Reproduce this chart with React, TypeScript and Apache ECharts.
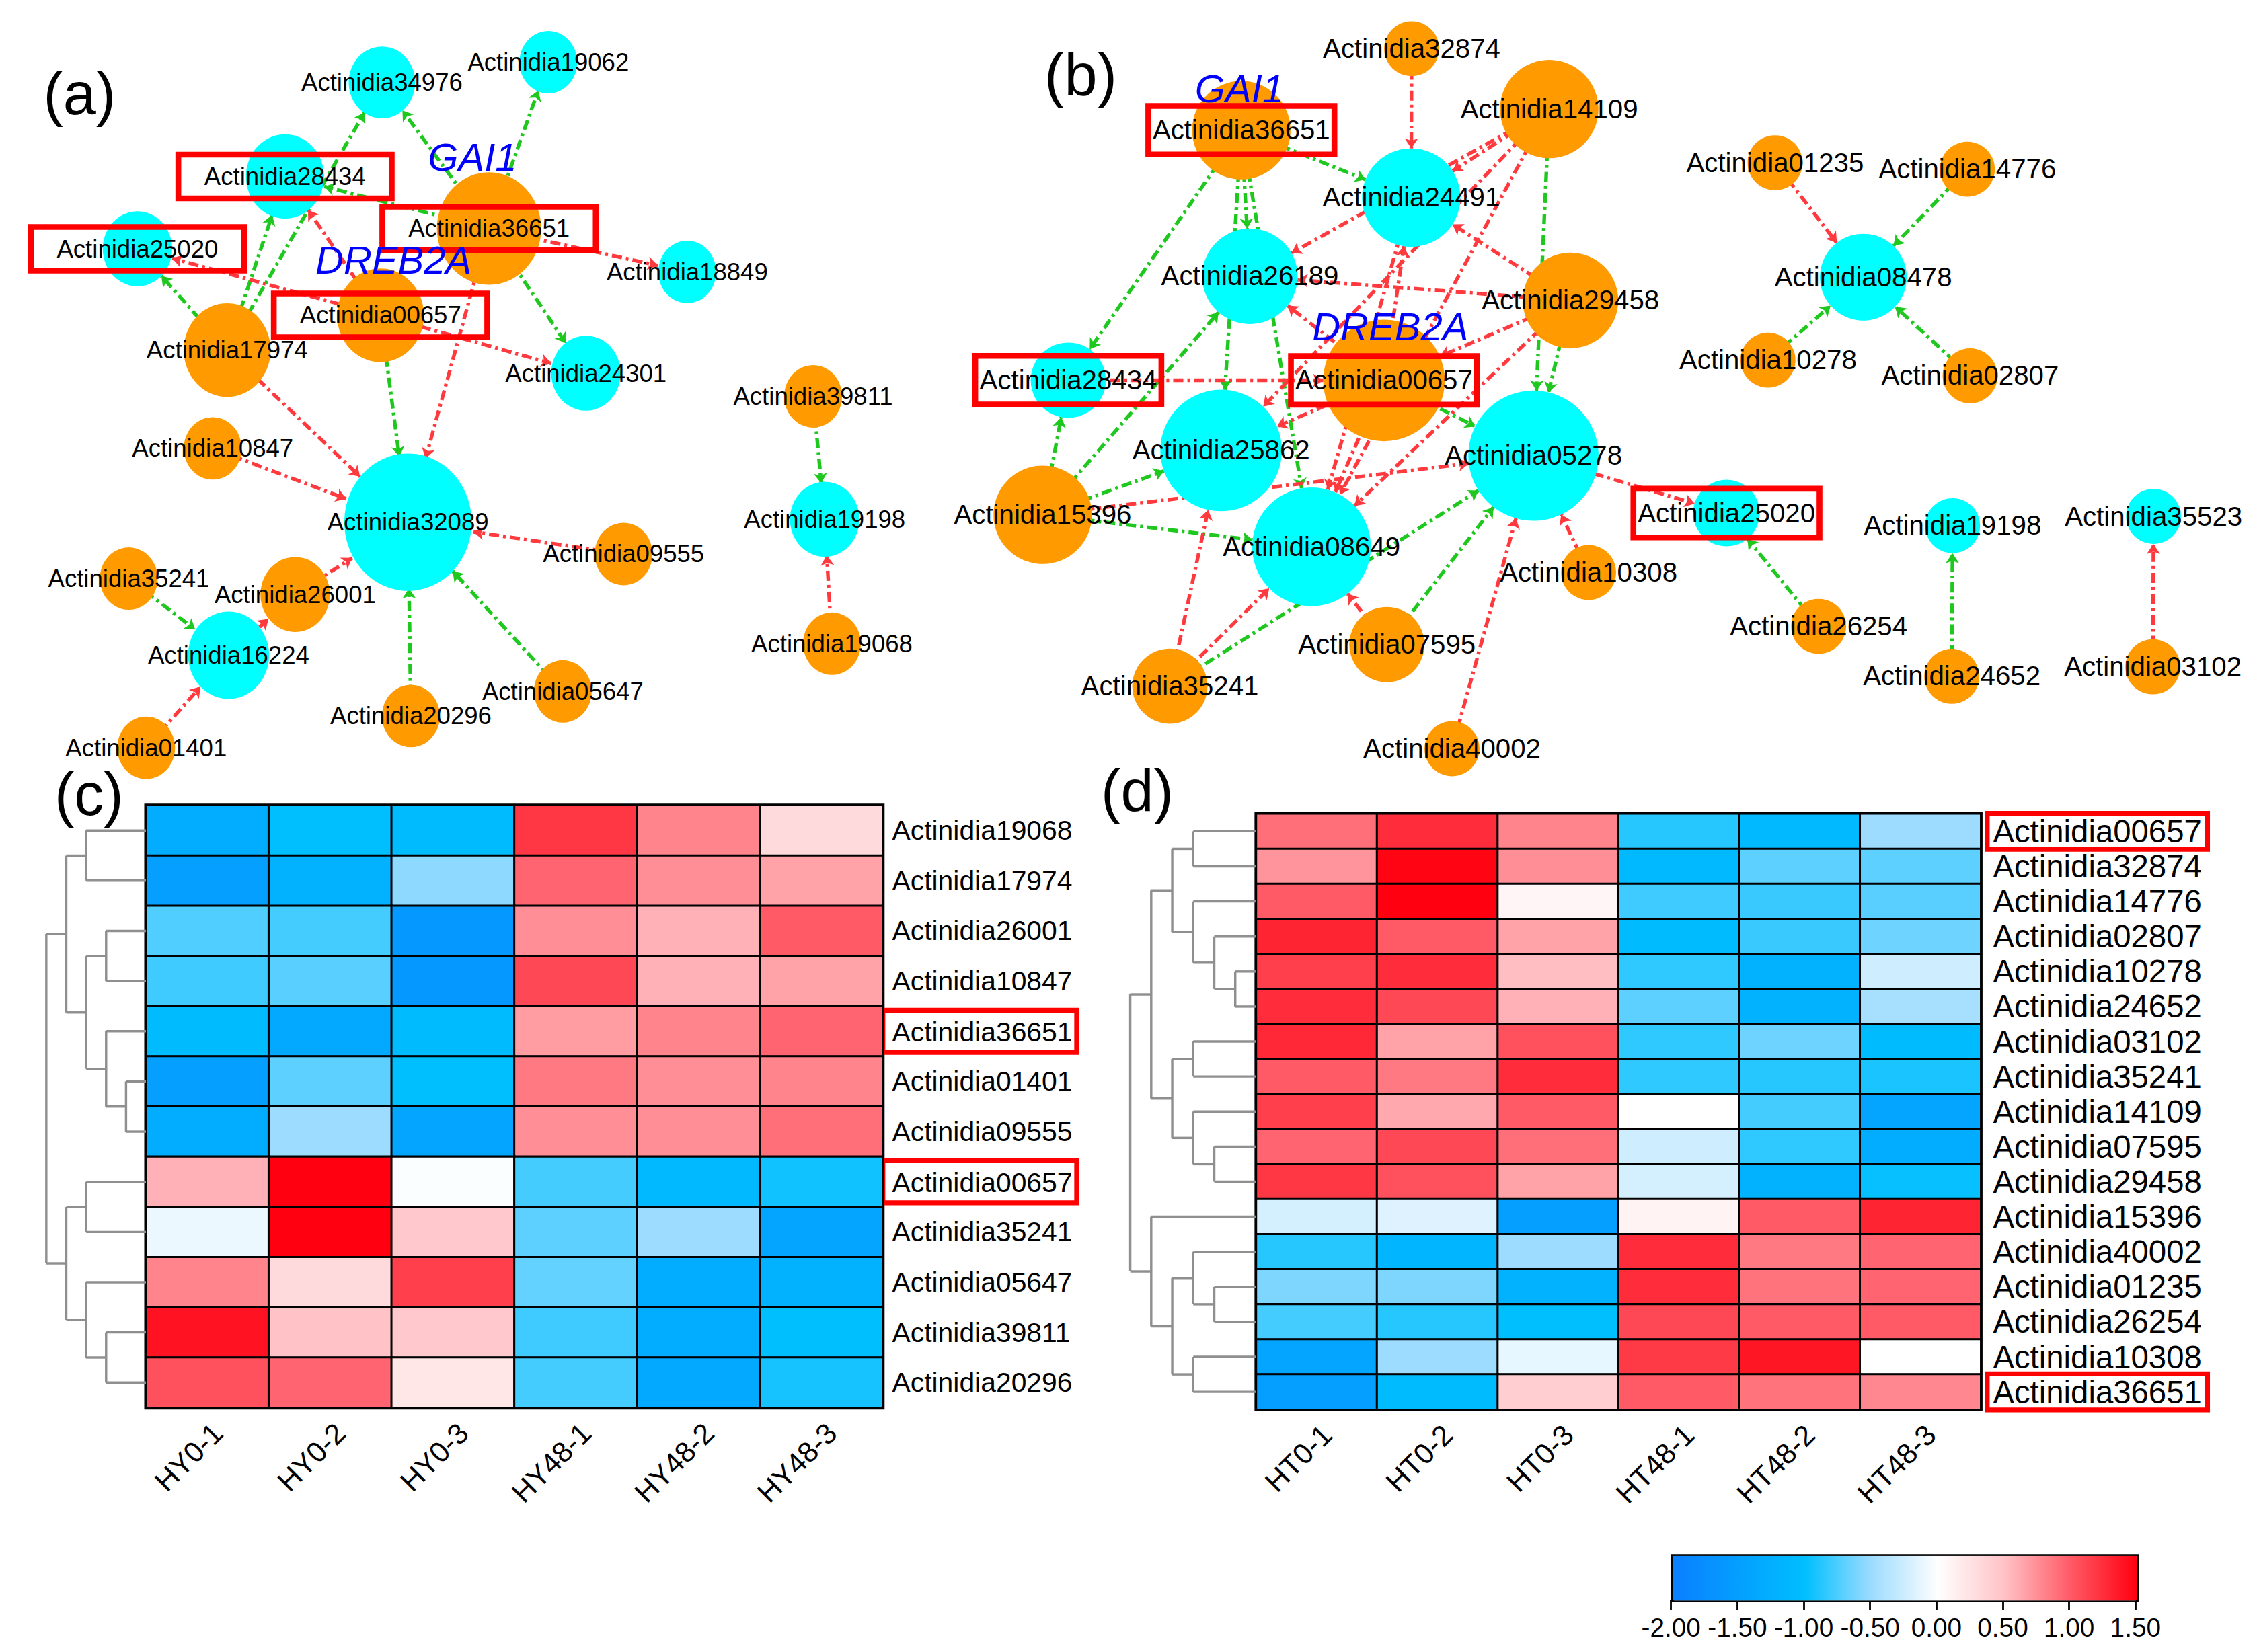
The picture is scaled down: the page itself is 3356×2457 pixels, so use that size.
import React, { useEffect, useRef } from "react";
import * as echarts from "echarts";

const PAGE_W = 3356;
const PAGE_H = 2457;
const S = PAGE_W / 1560;
const u = (v: number) => v * S;
const FONT = '"Liberation Sans", Arial, Helvetica, sans-serif';

const ORANGE = "#ff9a00";
const CYAN = "#00ffff";
const GREEN = "#1fc81f";
const RED = "#ff3a3f";
const BOX = "#ff0000";

// ---------------- Network (a) ----------------
const netAIds = ["34976", "19062", "28434", "36651", "25020", "18849", "00657", "17974", "24301", "10847", "32089", "09555", "35241", "26001", "16224", "01401", "20296", "05647", "39811", "19198", "19068"];
const netARoles = ["T", "T", "T", "R", "T", "T", "R", "R", "T", "R", "T", "R", "R", "R", "T", "R", "R", "R", "R", "T", "R"];
const netAPos = [[264, 57], [379, 43], [197, 122], [338, 158], [95, 172], [475, 188], [263, 218], [157, 242], [405, 258], [147, 310], [282, 361], [431, 383], [89, 400], [204, 411], [158, 453], [101, 517], [284, 495], [389, 478], [562, 274], [570, 359], [575, 445]];
const netARadius = [23, 20, 27, 36, 24, 20, 30, 30, 24, 20, 44, 20, 20, 24, 28, 20, 20, 20, 20, 24, 20];
const netAEdges = [
  ["36651", "34976", "+"], ["17974", "34976", "+"], ["36651", "19062", "+"], ["36651", "28434", "+"],
  ["17974", "28434", "+"], ["00657", "28434", "-"], ["17974", "25020", "+"], ["00657", "25020", "-"],
  ["36651", "18849", "-"], ["36651", "24301", "+"], ["00657", "24301", "-"], ["36651", "32089", "-"],
  ["00657", "32089", "+"], ["17974", "32089", "-"], ["10847", "32089", "-"], ["09555", "32089", "-"],
  ["26001", "32089", "-"], ["20296", "32089", "+"], ["05647", "32089", "+"], ["35241", "16224", "+"],
  ["01401", "16224", "-"], ["16224", "26001", "-"], ["39811", "19198", "+"], ["19068", "19198", "-"],
];
const netAMarked = ["28434", "36651", "25020", "00657"];

// ---------------- Network (b) ----------------
const netBIds = ["32874", "14109", "36651", "24491", "26189", "29458", "28434", "00657", "25862", "05278", "15396", "08649", "25020", "10308", "07595", "35241", "40002", "01235", "14776", "08478", "10278", "02807", "19198", "35523", "26254", "24652", "03102"];
const netBRoles = ["R", "R", "R", "T", "T", "R", "T", "R", "T", "T", "R", "T", "T", "R", "R", "R", "R", "R", "R", "T", "R", "R", "T", "T", "R", "R", "R"];
const netBPos = [[975.7, 33.6], [1070.8, 75.4], [858, 90], [975.4, 136.6], [863.9, 191], [1085.5, 207.7], [738.4, 262.8], [956.6, 263], [844, 311.4], [1059.9, 315], [720.7, 355.9], [906.5, 378], [1193.3, 354.7], [1098, 395.8], [958.6, 445.6], [808.6, 474.4], [1003.6, 517.6], [1226.9, 112.5], [1359.8, 117], [1287.9, 191.6], [1222, 249], [1361.7, 259.8], [1349.6, 363.4], [1488.5, 357], [1257, 433], [1349, 467.6], [1488, 461]];
const netBRadius = [19, 34, 34, 34, 33, 33, 26, 42, 42, 45, 34, 41, 23, 19, 26, 26, 19, 19, 19, 30, 19, 19, 19, 19, 19, 19, 19];
const netBEdges = [
  ["32874", "24491", "-"], ["36651", "24491", "+"], ["36651", "26189", "+"], ["36651", "25862", "+"],
  ["36651", "08649", "+"], ["36651", "28434", "+"], ["14109", "24491", "-"], ["14109", "26189", "-"],
  ["14109", "25862", "-"], ["14109", "08649", "-"], ["14109", "05278", "+"], ["29458", "24491", "-"],
  ["29458", "26189", "-"], ["29458", "05278", "+"], ["29458", "00657", "-"], ["29458", "08649", "-"],
  ["00657", "24491", "-"], ["24491", "08649", "-"], ["00657", "26189", "-"], ["15396", "26189", "+"],
  ["28434", "00657", "-"], ["15396", "28434", "+"], ["15396", "25862", "+"], ["15396", "05278", "-"],
  ["15396", "08649", "+"], ["00657", "25862", "-"], ["00657", "08649", "-"], ["35241", "25862", "-"],
  ["35241", "08649", "-"], ["35241", "05278", "+"], ["07595", "05278", "+"], ["07595", "08649", "-"],
  ["40002", "05278", "-"], ["10308", "05278", "-"], ["05278", "25020", "-"], ["00657", "05278", "+"],
  ["26254", "25020", "+"], ["01235", "08478", "-"], ["14776", "08478", "+"], ["10278", "08478", "+"],
  ["02807", "08478", "+"], ["24652", "19198", "+"], ["03102", "35523", "-"],
];
const netBMarked = ["36651", "28434", "00657", "25020"];

// ---------------- Heatmap (c) ----------------
const hmCGenes = ["Actinidia19068", "Actinidia17974", "Actinidia26001", "Actinidia10847", "Actinidia36651", "Actinidia01401", "Actinidia09555", "Actinidia00657", "Actinidia35241", "Actinidia05647", "Actinidia39811", "Actinidia20296"];
const hmCSamples = ["HY0-1", "HY0-2", "HY0-3", "HY48-1", "HY48-2", "HY48-3"];
const hmCValues = [
  [-1.3, -1.0, -1.05, 1.2, 0.8, 0.3],
  [-1.5, -1.2, -0.55, 0.95, 0.75, 0.65],
  [-0.75, -0.78, -1.6, 0.75, 0.58, 1.0],
  [-0.8, -0.72, -1.6, 1.1, 0.58, 0.65],
  [-1.05, -1.35, -1.05, 0.68, 0.8, 0.95],
  [-1.5, -0.7, -1.0, 0.85, 0.75, 0.8],
  [-1.3, -0.5, -1.4, 0.75, 0.75, 0.9],
  [0.58, 1.5, -0.02, -0.78, -1.1, -0.95],
  [-0.1, 1.5, 0.45, -0.7, -0.5, -1.4],
  [0.8, 0.3, 1.15, -0.68, -1.3, -1.2],
  [1.4, 0.5, 0.45, -0.8, -1.3, -1.0],
  [1.05, 0.95, 0.2, -0.78, -1.35, -0.93],
];
const hmCMarked = ["Actinidia36651", "Actinidia00657"];
// tree: leaf = row index, node = [height, left, right]
const hmCTree: any = [5,
  [4, [3, 0, 1], [3, [2, 2, 3], [2, 4, [1, 5, 6]]]],
  [4, [3, 7, 8], [3, 9, [2, 10, 11]]]];

// ---------------- Heatmap (d) ----------------
const hmDGenes = ["Actinidia00657", "Actinidia32874", "Actinidia14776", "Actinidia02807", "Actinidia10278", "Actinidia24652", "Actinidia03102", "Actinidia35241", "Actinidia14109", "Actinidia07595", "Actinidia29458", "Actinidia15396", "Actinidia40002", "Actinidia01235", "Actinidia26254", "Actinidia10308", "Actinidia36651"];
const hmDSamples = ["HT0-1", "HT0-2", "HT0-3", "HT48-1", "HT48-2", "HT48-3"];
const hmDValues = [
  [0.9, 1.25, 0.8, -0.88, -1.1, -0.5],
  [0.72, 1.48, 0.75, -1.1, -0.7, -0.7],
  [1.0, 1.5, 0.08, -0.8, -0.82, -0.72],
  [1.3, 1.0, 0.65, -1.05, -0.82, -0.65],
  [1.15, 1.25, 0.52, -0.85, -1.2, -0.25],
  [1.25, 1.1, 0.58, -0.7, -1.2, -0.45],
  [1.28, 0.65, 1.05, -0.85, -0.65, -1.05],
  [1.0, 0.85, 1.25, -0.85, -0.88, -0.92],
  [1.15, 0.62, 1.0, 0.0, -0.78, -1.4],
  [0.95, 1.1, 0.9, -0.25, -0.85, -1.3],
  [1.2, 1.05, 0.65, -0.22, -1.2, -0.98],
  [-0.22, -0.17, -1.5, 0.1, 1.0, 1.3],
  [-0.88, -1.15, -0.5, 1.25, 0.85, 0.95],
  [-0.6, -0.6, -1.2, 1.25, 0.88, 0.95],
  [-0.78, -0.88, -1.0, 1.1, 1.0, 1.0],
  [-1.4, -0.5, -0.12, 1.18, 1.38, 0.0],
  [-1.5, -1.05, 0.4, 1.0, 0.88, 0.78],
];
const hmDMarked = ["Actinidia00657", "Actinidia36651"];
const hmDTree: any = [6,
  [5,
    [4, [3, 0, 1], [3, 2, [2, 3, [1, 4, 5]]]],
    [4, [3, 6, 7], [3, 8, [2, 9, 10]]]],
  [5, 11, [4, [3, 12, [2, 13, 14]], [3, 15, 16]]]];

// ---------------- Colour scale ----------------
const scaleMin = -2;
const scaleMax = 1.5;
const scaleColors = ["#0a7fff", "#049fff", "#00bfff", "#9ddcff", "#ffffff", "#ffc2c6", "#ff5a66", "#ff0010"];

// ---------------- helpers ----------------
function dendroSegments(tree: any): number[][] {
  const segs: number[][] = [];
  const walk = (t: any): [number, number] => {
    if (typeof t === "number") return [0, t + 0.5];
    const [h, l, r] = t;
    const [hl, yl] = walk(l);
    const [hr, yr] = walk(r);
    segs.push([hl, yl, h, yl]);
    segs.push([hr, yr, h, yr]);
    segs.push([h, yl, h, yr]);
    return [h, (yl + yr) / 2];
  };
  walk(tree);
  return segs;
}

function heatData(values: number[][]) {
  const out: number[][] = [];
  values.forEach((row, r) => row.forEach((v, c) => out.push([c, r, v])));
  return out;
}

function buildNet(ids: string[], roles: string[], pos: number[][], radius: number[], edges: string[][], marked: string[], fontSize: number, aspect: number, pad: number[]) {
  const data = ids.map((id, i) => {
    const d: any = {
      name: "Actinidia" + id,
      value: pos[i],
      symbolSize: [u(2 * radius[i]), u(2 * radius[i] * aspect)],
      itemStyle: { color: roles[i] === "R" ? ORANGE : CYAN },
    };
    if (marked.includes(id)) {
      d.label = { borderColor: BOX, borderWidth: u(4), padding: [u(pad[0]), u(pad[1])] };
    }
    return d;
  });
  const links = edges.map(([s, t, sign]) => ({
    source: "Actinidia" + s,
    target: "Actinidia" + t,
    lineStyle: { color: sign === "+" ? GREEN : RED },
  }));
  return {
    type: "graph",
    coordinateSystem: "cartesian2d",
    xAxisIndex: 0,
    yAxisIndex: 0,
    layout: "none",
    data,
    links,
    symbol: "circle",
    edgeSymbol: ["none", "arrow"],
    edgeSymbolSize: [0, u(7)],
    lineStyle: { width: u(2.5), type: [u(7), u(2.8), u(1.9), u(2.8)], opacity: 1, curveness: 0 },
    label: { show: true, position: "inside", color: "#000", fontSize: u(fontSize), fontFamily: FONT },
    emphasis: { disabled: true },
    silent: true,
    z: 3,
  };
}

function rowAxisLabel(marked: string[], fontSize: number, margin: number, padN: number, boxPad: number[]) {
  return {
    margin: u(margin),
    interval: 0,
    hideOverlap: false,
    showMinLabel: true,
    showMaxLabel: true,
    formatter: (v: string) => (marked.includes(v) ? `{box|${v}}` : `{n|${v}}`),
    rich: {
      n: { fontSize: u(fontSize), fontFamily: FONT, color: "#000", padding: [0, 0, 0, u(padN)] },
      box: {
        fontSize: u(fontSize), fontFamily: FONT, color: "#000",
        borderColor: BOX, borderWidth: u(3.4), padding: boxPad.map(u),
      },
    },
  };
}

function dendroSeries(tree: any, axisIndex: number) {
  return {
    type: "custom",
    xAxisIndex: axisIndex,
    yAxisIndex: axisIndex,
    data: dendroSegments(tree),
    silent: true,
    clip: false,
    renderItem: (_params: any, api: any) => {
      const p1 = api.coord([api.value(0), api.value(1)]);
      const p2 = api.coord([api.value(2), api.value(3)]);
      return {
        type: "line",
        shape: { x1: p1[0], y1: p1[1], x2: p2[0], y2: p2[1] },
        style: { stroke: "#8f8f8f", lineWidth: u(1.6) },
      };
    },
  };
}

function buildOption() {
  const hidden = { show: false };
  const hmGridC = { left: u(100.9), top: u(556.8), width: u(509.3), height: u(416.4) };
  const hmGridD = { left: u(868.3), top: u(562.6), width: u(500.8), height: u(411.8) };
  const colLabel = {
    rotate: 45, fontSize: u(20), fontFamily: FONT, color: "#000", margin: u(7), interval: 0,
    align: "right", verticalAlign: "top",
  };

  const texts = [
    { t: "(a)", x: 55, y: 65, size: 41, color: "#000", italic: false },
    { t: "(b)", x: 747, y: 52, size: 41, color: "#000", italic: false },
    { t: "(c)", x: 61.5, y: 549, size: 41, color: "#000", italic: false },
    { t: "(d)", x: 786, y: 547, size: 41, color: "#000", italic: false },
    { t: "GAI1", x: 326.5, y: 108.7, size: 27, color: "#0000ff", italic: true },
    { t: "DREB2A", x: 272, y: 179.7, size: 27, color: "#0000ff", italic: true },
    { t: "GAI1", x: 856.7, y: 61, size: 27, color: "#0000ff", italic: true },
    { t: "DREB2A", x: 961, y: 225.8, size: 27, color: "#0000ff", italic: true },
  ];

  return {
    animation: false,
    backgroundColor: "#ffffff",
    tooltip: { show: false },
    grid: [
      { left: 0, top: 0, width: PAGE_W, height: PAGE_H },
      { ...hmGridC, show: true, borderColor: "#000", borderWidth: u(2.4) },
      { ...hmGridD, show: true, borderColor: "#000", borderWidth: u(2.4) },
      { left: u(32), top: u(556.8), width: u(68.9), height: u(416.4) },
      { left: u(781.2), top: u(562.6), width: u(87.1), height: u(411.8) },
      { left: u(1155), top: u(1100), width: u(321), height: u(13.3) },
    ],
    xAxis: [
      { type: "value", gridIndex: 0, min: 0, max: PAGE_W / S, ...hidden },
      {
        type: "category", gridIndex: 1, data: hmCSamples, position: "bottom",
        axisLine: hidden, axisTick: hidden, splitLine: hidden, axisLabel: colLabel,
      },
      {
        type: "category", gridIndex: 2, data: hmDSamples, position: "bottom",
        axisLine: hidden, axisTick: hidden, splitLine: hidden, axisLabel: colLabel,
      },
      { type: "value", gridIndex: 3, min: 0, max: 5, inverse: true, ...hidden },
      { type: "value", gridIndex: 4, min: 0, max: 6, inverse: true, ...hidden },
      {
        type: "value", gridIndex: 5, min: scaleMin, max: scaleMax, interval: 0.5, position: "bottom",
        axisLine: hidden, splitLine: hidden,
        axisTick: { show: true, inside: true, length: u(7), lineStyle: { color: "#000", width: u(1.3) } },
        axisLabel: { fontSize: u(18), fontFamily: FONT, color: "#000", margin: u(3), formatter: (v: number) => v.toFixed(2), showMinLabel: true, showMaxLabel: true, hideOverlap: false },
      },
    ],
    yAxis: [
      { type: "value", gridIndex: 0, min: 0, max: PAGE_H / S, inverse: true, ...hidden },
      {
        type: "category", gridIndex: 1, data: hmCGenes, inverse: true, position: "right",
        axisLine: hidden, axisTick: hidden, splitLine: hidden,
        axisLabel: rowAxisLabel(hmCMarked, 19, 0, 6.4, [5.5, 3, 4.5, 6.4]),
      },
      {
        type: "category", gridIndex: 2, data: hmDGenes, inverse: true, position: "right",
        axisLine: hidden, axisTick: hidden, splitLine: hidden,
        axisLabel: rowAxisLabel(hmDMarked, 22, 4.4, 4, [1.5, 4, 1.5, 4]),
      },
      { type: "value", gridIndex: 3, min: 0, max: hmCGenes.length, inverse: true, ...hidden },
      { type: "value", gridIndex: 4, min: 0, max: hmDGenes.length, inverse: true, ...hidden },
      { type: "value", gridIndex: 5, min: 0, max: 1, ...hidden },
    ],
    visualMap: {
      type: "continuous",
      seriesIndex: [2, 3],
      dimension: 2,
      min: scaleMin,
      max: scaleMax,
      orient: "horizontal",
      calculable: false,
      left: u(1155),
      top: u(1074.4),
      itemWidth: u(31),
      itemHeight: u(321),
      padding: 0,
      borderColor: "#000",
      borderWidth: u(2.2),
      inRange: { color: scaleColors },
      textStyle: { fontSize: 1, color: "rgba(0,0,0,0)" },
    },
    graphic: texts.map((g) => ({
      type: "text",
      x: u(g.x),
      y: u(g.y),
      z: 20,
      silent: true,
      style: {
        text: g.t,
        fill: g.color,
        fontSize: u(g.size),
        fontFamily: FONT,
        fontStyle: g.italic ? "italic" : "normal",
        align: "center",
        verticalAlign: "middle",
        textAlign: "center",
        textVerticalAlign: "middle",
      },
    })),
    series: [
      buildNet(netAIds, netARoles, netAPos, netARadius, netAEdges, netAMarked, 17, 1.08, [6.5, 18]),
      buildNet(netBIds, netBRoles, netBPos, netBRadius, netBEdges, netBMarked, 18.7, 1.0, [7.5, 3]),
      {
        type: "heatmap", xAxisIndex: 1, yAxisIndex: 1, data: heatData(hmCValues),
        itemStyle: { borderColor: "#000", borderWidth: u(1.4) }, emphasis: { disabled: true }, silent: true,
      },
      {
        type: "heatmap", xAxisIndex: 2, yAxisIndex: 2, data: heatData(hmDValues),
        itemStyle: { borderColor: "#000", borderWidth: u(1.4) }, emphasis: { disabled: true }, silent: true,
      },
      dendroSeries(hmCTree, 3),
      dendroSeries(hmDTree, 4),
    ],
  };
}

export default function App() {
  const ref = useRef<HTMLDivElement>(null);
  useEffect(() => {
    document.body.style.margin = "0";
    const chart = echarts.init(ref.current as HTMLDivElement, null, { renderer: "svg", width: PAGE_W, height: PAGE_H });
    chart.setOption(buildOption() as any);
    return () => chart.dispose();
  }, []);
  return <div ref={ref} style={{ width: PAGE_W, height: PAGE_H }} />;
}
